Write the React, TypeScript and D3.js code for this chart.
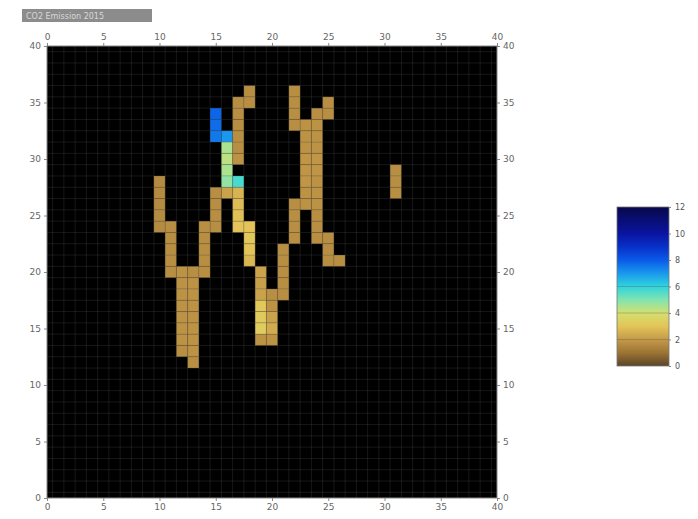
import React, { useEffect, useRef } from 'react';
import * as d3 from 'd3';

type Cell = [number, number, number]; // x, y, value

const xTicks = [0, 5, 10, 15, 20, 25, 30, 35, 40];
const yTicks = [0, 5, 10, 15, 20, 25, 30, 35, 40];
const colorTicks = [0, 2, 4, 6, 8, 10, 12];
const colorStops = [0, 1, 2, 3, 4, 5, 6, 7, 8, 9, 10, 12];
const colorValues = ['#5a4428', '#9c7434', '#c49a48', '#e4c458', '#d4e070', '#80e4b0', '#30d4dc', '#1a98ee', '#0a5ae8', '#0830c8', '#0a14a0', '#08084a'];

const leftBranch: Cell[] = [
  [10, 28, 1.6], [10, 27, 1.6], [10, 26, 1.6], [10, 25, 1.6], [10, 24, 1.6],
  [11, 24, 1.7], [11, 23, 1.7], [11, 22, 1.7], [11, 21, 1.7], [11, 20, 1.7],
];
const trunk: Cell[] = [
  [12, 20, 1.8], [12, 19, 1.8], [12, 18, 1.8], [12, 17, 1.8], [12, 16, 1.8], [12, 15, 1.8], [12, 14, 1.8], [12, 13, 1.7],
  [13, 20, 1.7], [13, 19, 1.8], [13, 18, 1.8], [13, 17, 1.8], [13, 16, 1.8], [13, 15, 1.8], [13, 14, 1.8], [13, 13, 1.8], [13, 12, 1.7],
];
const midLeftLeg: Cell[] = [
  [15, 27, 1.7], [16, 27, 2.2], [15, 26, 1.7], [15, 25, 1.7], [15, 24, 1.7],
  [14, 24, 1.7], [14, 23, 1.7], [14, 22, 1.7], [14, 21, 1.7], [14, 20, 1.7],
];
const midRightLeg: Cell[] = [
  [17, 27, 2.6], [17, 26, 2.8], [17, 25, 2.9], [17, 24, 3.0],
  [18, 24, 3.0], [18, 23, 3.1], [18, 22, 3.0], [18, 21, 2.7],
  [19, 20, 2.2], [19, 19, 2.1], [19, 18, 2.2], [19, 17, 3.1], [19, 16, 3.2], [19, 15, 3.3], [19, 14, 1.8],
  [20, 18, 1.7], [20, 17, 1.8], [20, 16, 2.2], [20, 15, 2.4], [20, 14, 1.8],
];
const blueBranch: Cell[] = [
  [15, 34, 7.8], [15, 33, 7.7], [15, 32, 7.5], [16, 32, 7.0],
  [16, 31, 4.5], [16, 30, 4.3], [16, 29, 4.5], [16, 28, 4.8], [17, 28, 5.7],
];
const orangeTop: Cell[] = [
  [18, 36, 1.7], [18, 35, 1.7], [17, 35, 1.7], [17, 34, 1.7], [17, 33, 1.7], [17, 32, 1.7], [17, 31, 1.7], [17, 30, 1.8],
];
const rightX: Cell[] = [
  [22, 36, 1.7], [22, 35, 1.7], [22, 34, 1.7], [22, 33, 1.7],
  [25, 35, 1.7], [25, 34, 1.7], [24, 34, 1.7],
  [23, 33, 1.8], [23, 32, 1.8], [23, 31, 1.8], [23, 30, 1.9], [23, 29, 1.9], [23, 28, 1.9], [23, 27, 1.8], [23, 26, 1.8],
  [24, 33, 1.8], [24, 32, 1.8], [24, 31, 1.8], [24, 30, 1.9], [24, 29, 1.9], [24, 28, 1.8], [24, 27, 1.8], [24, 26, 1.8],
  [22, 26, 1.7], [22, 25, 1.7], [22, 24, 1.7], [22, 23, 1.7],
  [21, 22, 1.7], [21, 21, 1.7], [21, 20, 1.7], [21, 19, 1.7], [21, 18, 1.7],
  [24, 25, 1.7], [24, 24, 1.7], [24, 23, 1.7], [25, 23, 1.7], [25, 22, 1.7], [25, 21, 1.7], [26, 21, 1.7],
];
const isolated: Cell[] = [[31, 29, 1.7], [31, 28, 1.7], [31, 27, 1.7]];

const allCells = [...leftBranch, ...trunk, ...midLeftLeg, ...midRightLeg, ...blueBranch, ...orangeTop, ...rightX, ...isolated];

const W = 698;
const H = 519;

const App: React.FC = () => {
  const svgRef = useRef<SVGSVGElement>(null);

  useEffect(() => {
    if (!svgRef.current) return;
    const svg = d3.select(svgRef.current);
    svg.selectAll('*').remove();

    const x = d3.scaleLinear().domain([0, 40]).range([47, 497]);
    const y = d3.scaleLinear().domain([0, 40]).range([498, 46]);
    const color = d3.scaleLinear<string>().domain(colorStops).range(colorValues).clamp(true);

    // plot background
    svg.append('rect')
      .attr('x', x(0)).attr('y', y(40))
      .attr('width', x(40) - x(0)).attr('height', y(0) - y(40))
      .attr('fill', '#000');

    // cells
    svg.append('g')
      .selectAll('rect')
      .data(allCells)
      .enter()
      .append('rect')
      .attr('x', d => x(d[0] - 0.5))
      .attr('y', d => y(d[1] + 0.5))
      .attr('width', x(1) - x(0))
      .attr('height', y(0) - y(1))
      .attr('fill', d => color(d[2]));

    // grid
    const gridVals = d3.range(0.5, 40, 1);
    const grid = svg.append('g').attr('stroke', '#555').attr('stroke-opacity', 0.35).attr('stroke-width', 0.8);
    grid.selectAll('.gv').data(gridVals).enter().append('line')
      .attr('x1', d => x(d)).attr('x2', d => x(d))
      .attr('y1', y(40)).attr('y2', y(0));
    grid.selectAll('.gh').data(gridVals).enter().append('line')
      .attr('y1', d => y(d)).attr('y2', d => y(d))
      .attr('x1', x(0)).attr('x2', x(40));

    // frame
    svg.append('rect')
      .attr('x', x(0)).attr('y', y(40))
      .attr('width', x(40) - x(0)).attr('height', y(0) - y(40))
      .attr('fill', 'none').attr('stroke', '#888').attr('stroke-width', 1);

    const styleAxis = (g: d3.Selection<SVGGElement, unknown, null, undefined>) => {
      g.select('.domain').remove();
      g.selectAll('line').attr('stroke', '#888');
      g.selectAll('text').attr('fill', '#666').attr('font-size', '9px').attr('font-family', 'DejaVu Sans, sans-serif');
    };

    svg.append('g').attr('transform', `translate(0,${y(40)})`)
      .call(d3.axisTop(x).tickValues(xTicks).tickSize(3).tickPadding(3)).call(styleAxis);
    svg.append('g').attr('transform', `translate(0,${y(0)})`)
      .call(d3.axisBottom(x).tickValues(xTicks).tickSize(3).tickPadding(3)).call(styleAxis);
    svg.append('g').attr('transform', `translate(${x(0)},0)`)
      .call(d3.axisLeft(y).tickValues(yTicks).tickSize(3).tickPadding(3)).call(styleAxis);
    svg.append('g').attr('transform', `translate(${x(40)},0)`)
      .call(d3.axisRight(y).tickValues(yTicks).tickSize(3).tickPadding(3)).call(styleAxis);

    // title box
    svg.append('rect').attr('x', 22).attr('y', 9).attr('width', 130).attr('height', 13).attr('fill', '#8c8c8c');
    svg.append('text').attr('x', 26).attr('y', 19).attr('fill', '#d8d8d8')
      .attr('font-size', '8px').attr('font-family', 'DejaVu Sans, sans-serif')
      .text('CO2 Emission 2015');

    // colorbar
    const cbX = 617, cbW = 52;
    const cb = d3.scaleLinear().domain([0, 12]).range([366, 207]);
    const defs = svg.append('defs');
    const grad = defs.append('linearGradient').attr('id', 'cbgrad')
      .attr('x1', '0').attr('y1', '1').attr('x2', '0').attr('y2', '0');
    grad.selectAll('stop').data(colorStops).enter().append('stop')
      .attr('offset', d => `${(d / 12) * 100}%`)
      .attr('stop-color', d => color(d));
    svg.append('rect')
      .attr('x', cbX).attr('y', cb(12)).attr('width', cbW).attr('height', cb(0) - cb(12))
      .attr('fill', 'url(#cbgrad)').attr('stroke', '#777').attr('stroke-width', 0.8);
    svg.append('g').selectAll('line').data([2, 4, 6]).enter().append('line')
      .attr('x1', cbX).attr('x2', cbX + cbW)
      .attr('y1', d => cb(d)).attr('y2', d => cb(d))
      .attr('stroke', '#556').attr('stroke-opacity', 0.35);
    const cbAxis = svg.append('g').attr('transform', `translate(${cbX + cbW},0)`)
      .call(d3.axisRight(cb).tickValues(colorTicks).tickSize(2).tickPadding(4));
    cbAxis.select('.domain').remove();
    cbAxis.selectAll('line').attr('stroke', '#888');
    cbAxis.selectAll('text').attr('fill', '#555').attr('font-size', '8px').attr('font-family', 'DejaVu Sans, sans-serif');
  }, []);

  return (
    <svg ref={svgRef} width={W} height={H} style={{ position: 'absolute', left: 0, top: 0, background: '#fff' }} />
  );
};

export default App;
